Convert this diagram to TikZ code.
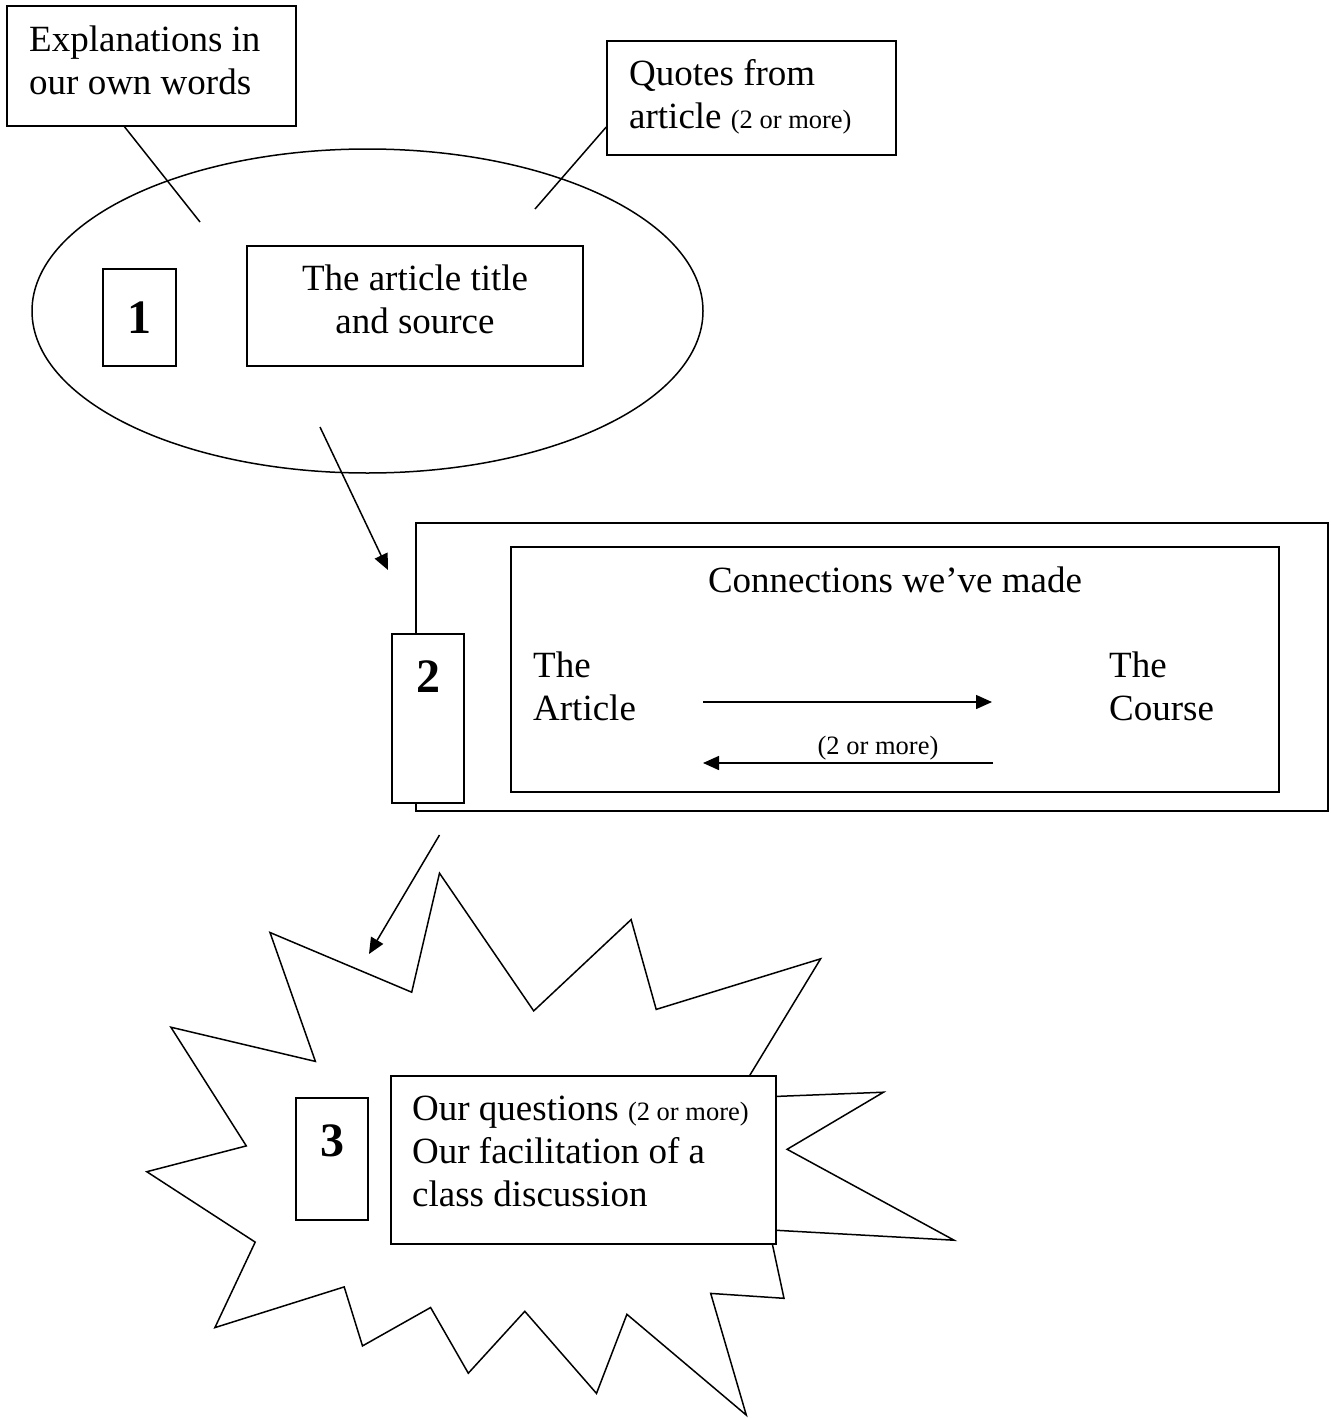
\documentclass[tikz,border=0pt]{standalone}
\usepackage{fontspec}
\setmainfont{Liberation Serif}
\usetikzlibrary{shapes.geometric,arrows.meta,calc}
\newcommand{\twoplus}{{\fontsize{26.5}{30}\selectfont(2 or more)}}
\begin{document}
\begin{tikzpicture}[x=1pt,y=-1pt,
    box/.style={draw,line width=1.5pt,inner sep=0pt,fill=white},
    numbox/.style={box,font=\fontsize{48}{50}\selectfont\bfseries},
    txt/.style={font=\fontsize{37}{43}\selectfont,inner sep=0pt},
    link/.style={line width=1.5pt},
    arr/.style={line width=1.5pt,-{Triangle[length=16pt,width=14pt]}}]
  \useasboundingbox (0,0) rectangle (1330,1418);
%
    \node [box,minimum width=289,minimum height=120] (expl) at (151.5,66) {};
    \node [txt,align=left,anchor=north west] (expltext) at (29,25.7) {Explanations in\\our own words};
    \node [box,minimum width=289,minimum height=114] (quotes) at (751.5,98) {};
    \node [txt,align=left,anchor=north west] (quotestext) at (629,59.7) {Quotes from\\article \twoplus};
    \node [draw,ellipse,link,minimum width=671,minimum height=324,inner sep=0pt] (bubble) at (367.5,311) {};
    \node [numbox,minimum width=73,minimum height=97] (one) at (139.5,317.5) {1};
    \node [box,minimum width=336,minimum height=120] (title) at (415,306) {};
    \node [txt,align=center,anchor=north] (titletext) at (415,264.7) {The article title\\and source};
    \coordinate (e1) at (200,222);
    \coordinate (q1) at (535,209);
    \draw [link] ($(expl.south)+(-27,0)$) -- (e1);
    \draw [link] ($(quotes.west)+(0,29)$) -- (q1);
%
    \node [box,minimum width=912,minimum height=288] (outer) at (872,667) {};
    \node [box,minimum width=768,minimum height=245] (inner) at (895,669.5) {};
    \node [numbox,minimum width=72,minimum height=169,text depth=83] (two) at (428,718.5) {2};
    \node [txt,anchor=base] (conn) at (895,592) {Connections we’ve made};
    \node [txt,align=left,anchor=north west] (artside) at (533,652) {The\\Article};
    \node [txt,align=left,anchor=north west] (courseside) at (1109,652) {The\\Course};
    \node [anchor=base,inner sep=0pt,font=\fontsize{26.5}{30}\selectfont] (few) at (878,754) {(2 or more)};
    \coordinate (r1) at (703,702); \coordinate (r2) at (992,702);
    \coordinate (l1) at (993,763); \coordinate (l2) at (703,763);
    \draw [arr] (r1) -- (r2);
    \draw [arr] (l1) -- (l2);
    \coordinate (b1) at (320,427); \coordinate (b2) at (388,570);
    \draw [arr] (b1) -- (b2);
%
    \draw [link] (270,932.5) -- (411.7,992.2) -- (439.5,873.2) -- (533.7,1010.9) -- (631.1,919.6) -- (656.2,1009.4) -- (820.6,958.8) -- (736,1098) -- (883.5,1092.2) -- (787.1,1149.3) -- (954.1,1240.2) -- (769.3,1229.9) -- (784,1298.3) -- (710.7,1293.4) -- (746.3,1415.1) -- (626.9,1314.3) -- (596.5,1393.4) -- (524.8,1311.3) -- (468.3,1373.2) -- (430.6,1307.5) -- (362.5,1345.9) -- (344.2,1286.9) -- (214.9,1327.6) -- (255.2,1242.1) -- (146.8,1171.7) -- (246.3,1145.9) -- (170.9,1027.2) -- (315.4,1061.4) -- cycle;
    \node [numbox,minimum width=72,minimum height=122,text depth=36] (three) at (332,1159) {3};
    \node [box,minimum width=385,minimum height=168] (ask) at (583.5,1160) {};
    \node [txt,align=left,anchor=north west] (asktext) at (412,1096) {Our questions \twoplus\\Our facilitation of a\\class discussion};
    \coordinate (s1) at (439.5,835); \coordinate (s2) at (369,954);
    \draw [arr] (s1) -- (s2);
\end{tikzpicture}
\end{document}
